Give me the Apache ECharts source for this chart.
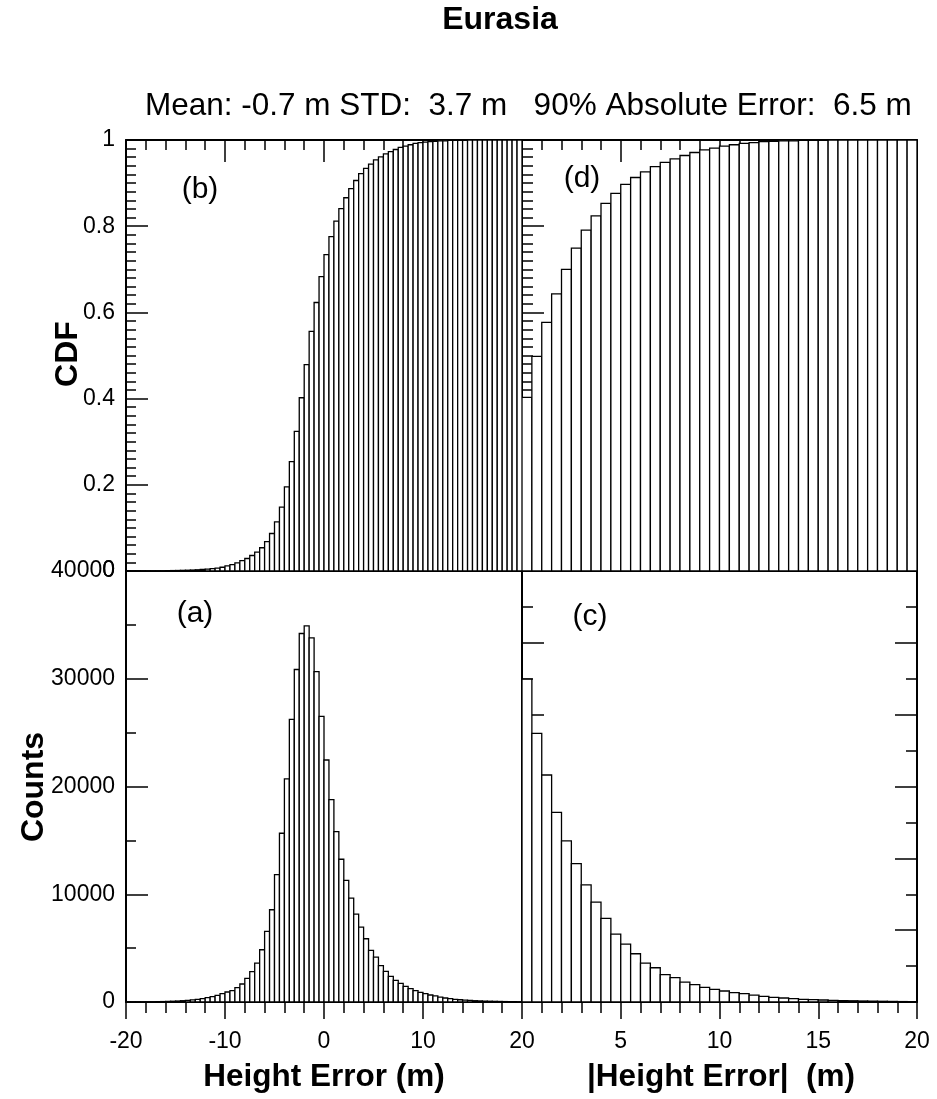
<!DOCTYPE html>
<html>
<head>
<meta charset="utf-8">
<script src="https://cdn.jsdelivr.net/npm/echarts@6/dist/echarts.min.js"></script>
<style>
html,body{margin:0;padding:0;background:#fff;}
#chart{width:937px;height:1099px;}
</style>
</head>
<body>
<div id="chart"></div>
<script>
// ---- data ----
const binWidth = 0.5;
const signedStart = -20;   // first bin edge of panels (a),(b)
const absStart = 0;        // first bin edge of panels (c),(d)

// (a) histogram of height error, 0.5 m bins from -20 to 20
const countsSigned = [
  5, 8, 10, 15, 20, 25, 30, 40, 55, 70,
  90, 120, 150, 190, 250, 310, 400, 490, 620, 770,
  930, 1050, 1330, 1670, 2190, 2810, 3610, 4850, 6550, 8560,
  11830, 15660, 20700, 26230, 30860, 34200, 34900, 33790, 30670, 26500,
  22460, 18780, 15820, 13250, 11280, 9640, 8160, 6950, 5870, 4790,
  4170, 3370, 2840, 2380, 2010, 1730, 1450, 1240, 1050, 900,
  770, 650, 560, 460, 370, 310, 250, 210, 180, 150,
  120, 100, 80, 70, 60, 50, 40, 30, 30, 20
];
// (b) CDF of height error
const cdfSigned = [
  0.0000, 0.0001, 0.0001, 0.0002, 0.0003, 0.0004, 0.0005, 0.0006, 0.0008, 0.0010,
  0.0012, 0.0015, 0.0018, 0.0022, 0.0028, 0.0035, 0.0044, 0.0055, 0.0069, 0.0087,
  0.012, 0.015, 0.019, 0.024, 0.029, 0.036, 0.044, 0.054, 0.068, 0.087,
  0.114, 0.148, 0.195, 0.254, 0.324, 0.402, 0.479, 0.556, 0.623, 0.683,
  0.734, 0.776, 0.812, 0.841, 0.866, 0.887, 0.906, 0.922, 0.934, 0.944,
  0.954, 0.961, 0.968, 0.973, 0.978, 0.983, 0.986, 0.989, 0.992, 0.994,
  0.995, 0.996, 0.997, 0.998, 0.998, 0.999, 0.999, 0.999, 0.999, 1.0,
  1.0, 1.0, 1.0, 1.0, 1.0, 1.0, 1.0, 1.0, 1.0, 1.0
];
// (c) histogram of absolute height error, 0.5 m bins from 0 to 20
const countsAbs = [
  44940, 37390, 31600, 26410, 22420, 19270, 16310, 13900, 11630, 9450,
  8060, 6720, 5420, 4770, 3800, 3380, 2780, 2410, 2040, 1760,
  1530, 1300, 1160, 970, 790, 650, 560, 460, 370, 320,
  280, 240, 200, 170, 140, 120, 100, 80, 60, 50
];
// (d) CDF of absolute height error
const cdfAbs = [
  0.403, 0.498, 0.577, 0.643, 0.700, 0.749, 0.791, 0.824, 0.853, 0.876,
  0.897, 0.913, 0.926, 0.938, 0.948, 0.956, 0.964, 0.971, 0.977, 0.981,
  0.986, 0.989, 0.992, 0.994, 0.996, 0.997, 0.998, 0.998, 0.999, 0.999,
  0.999, 1.0, 1.0, 1.0, 1.0, 1.0, 1.0, 1.0, 1.0, 1.0
];

const titleText = 'Eurasia';
const statsText = 'Mean: -0.7 m STD:  3.7 m   90% Absolute Error:  6.5 m';
const cdfName = 'CDF';
const countsName = 'Counts';
const xNameSigned = 'Height Error (m)';
const xNameAbs = '|Height Error|  (m)';
const panelTags = ['(b)', '(d)', '(a)', '(c)'];

// ---- build ----
function bins(start, vals) {
  return vals.map((v, i) => [start + i * binWidth, start + (i + 1) * binWidth, v]);
}
const FONT = '"Liberation Sans", Arial, Helvetica, sans-serif';
const BLACK = '#000';
const TICK_FONT = 23;

function renderBin(params, api) {
  const top = api.coord([api.value(0), api.value(2)]);
  const bot = api.coord([api.value(1), 0]);
  return {
    type: 'rect',
    shape: { x: top[0], y: top[1], width: bot[0] - top[0], height: bot[1] - top[1] },
    style: { fill: '#fff', stroke: BLACK, lineWidth: 1.3 }
  };
}

const lineStyle = { color: BLACK, width: 2 };
function xAxis(grid, pos, min, max, interval, opts) {
  opts = opts || {};
  return {
    type: 'value', gridIndex: grid, position: pos, min: min, max: max, interval: interval,
    axisLine: { show: true, onZero: false, lineStyle: lineStyle },
    axisTick: { show: !!opts.ticks, inside: !!opts.inside, length: opts.tickLen || 22, lineStyle: { color: BLACK, width: 1.5 } },
    minorTick: { show: !!opts.ticks, splitNumber: opts.minorSplit || 5, length: opts.minorLen || 10, lineStyle: { color: BLACK, width: 1.5 } },
    axisLabel: { show: !!opts.labels, color: BLACK, fontSize: TICK_FONT, fontFamily: FONT, margin: 28, showMinLabel: opts.showMin !== false },
    splitLine: { show: false }
  };
}
function yAxis(grid, pos, min, max, interval, opts) {
  opts = opts || {};
  return {
    type: 'value', gridIndex: grid, position: pos, min: min, max: max, interval: interval,
    axisLine: { show: true, onZero: false, lineStyle: lineStyle },
    axisTick: { show: !!opts.ticks, inside: true, length: 22, lineStyle: { color: BLACK, width: 1.5 } },
    minorTick: { show: !!opts.ticks, splitNumber: opts.minorSplit || 2, length: opts.minorLen || 10, lineStyle: { color: BLACK, width: 1.5 } },
    axisLabel: { show: !!opts.labels, color: BLACK, fontSize: TICK_FONT, fontFamily: FONT, margin: 11,
      formatter: opts.fmt },
    splitLine: { show: false }
  };
}

const chart = echarts.init(document.getElementById('chart'), null, { renderer: 'canvas' });
const option = {
  backgroundColor: '#fff',
  animation: false,
  grid: [
    { left: 126, top: 140, width: 396, height: 431 }, // (b)
    { left: 522, top: 140, width: 395, height: 431 }, // (d)
    { left: 126, top: 571, width: 396, height: 431 }, // (a)
    { left: 522, top: 571, width: 395, height: 431 }  // (c)
  ],
  xAxis: [
    xAxis(0, 'bottom', -20, 20, 10, {}),
    xAxis(0, 'top', -20, 20, 10, { ticks: true, inside: true, tickLen: 22, minorSplit: 5, minorLen: 10 }),
    xAxis(1, 'bottom', 0, 20, 5, {}),
    xAxis(1, 'top', 0, 20, 5, { ticks: true, inside: true, tickLen: 22, minorSplit: 5, minorLen: 10 }),
    xAxis(2, 'bottom', -20, 20, 10, { ticks: true, inside: false, tickLen: 17, minorSplit: 5, minorLen: 11, labels: true }),
    xAxis(3, 'bottom', 0, 20, 5, { ticks: true, inside: false, tickLen: 17, minorSplit: 5, minorLen: 11, labels: true, showMin: false })
  ],
  yAxis: [
    yAxis(0, 'left', 0, 1, 0.2, { ticks: true, minorSplit: 10, minorLen: 10, labels: true,
      fmt: v => String(Math.round(v * 10) / 10) }),
    yAxis(0, 'right', 0, 1, 0.2, {}),
    yAxis(1, 'left', 0, 1, 0.2, { ticks: true, minorSplit: 10, minorLen: 11 }),
    yAxis(1, 'right', 0, 1, 0.2, { ticks: true, minorSplit: 10, minorLen: 11 }),
    yAxis(2, 'left', 0, 40000, 10000, { ticks: true, minorSplit: 2, minorLen: 10, labels: true,
      fmt: v => String(v) }),
    yAxis(3, 'left', 0, 60000, 10000, { ticks: true, minorSplit: 2, minorLen: 11 }),
    yAxis(3, 'right', 0, 60000, 10000, { ticks: true, minorSplit: 2, minorLen: 11 })
  ],
  series: [
    { type: 'custom', xAxisIndex: 0, yAxisIndex: 0, renderItem: renderBin, clip: true,
      encode: { x: [0, 1], y: 2 }, data: bins(signedStart, cdfSigned) },
    { type: 'custom', xAxisIndex: 2, yAxisIndex: 2, renderItem: renderBin, clip: true,
      encode: { x: [0, 1], y: 2 }, data: bins(absStart, cdfAbs) },
    { type: 'custom', xAxisIndex: 4, yAxisIndex: 4, renderItem: renderBin, clip: true,
      encode: { x: [0, 1], y: 2 }, data: bins(signedStart, countsSigned) },
    { type: 'custom', xAxisIndex: 5, yAxisIndex: 5, renderItem: renderBin, clip: true,
      encode: { x: [0, 1], y: 2 }, data: bins(absStart, countsAbs) }
  ],
  graphic: [
    { type: 'text', x: 500, y: 20, z: 100, style: { text: titleText, font: 'bold 32px ' + FONT, fill: BLACK, textAlign: 'center', textVerticalAlign: 'middle' } },
    { type: 'text', x: 145, y: 106, z: 100, style: { text: statsText, font: '31.5px ' + FONT, fill: BLACK, textAlign: 'left', textVerticalAlign: 'middle' } },
    { type: 'text', x: 68, y: 354, rotation: Math.PI / 2, z: 100, style: { text: cdfName, font: 'bold 32px ' + FONT, fill: BLACK, textAlign: 'center', textVerticalAlign: 'middle' } },
    { type: 'text', x: 34, y: 787, rotation: Math.PI / 2, z: 100, style: { text: countsName, font: 'bold 32px ' + FONT, fill: BLACK, textAlign: 'center', textVerticalAlign: 'middle' } },
    { type: 'text', x: 324, y: 1077, z: 100, style: { text: xNameSigned, font: 'bold 31.5px ' + FONT, fill: BLACK, textAlign: 'center', textVerticalAlign: 'middle' } },
    { type: 'text', x: 721, y: 1077, z: 100, style: { text: xNameAbs, font: 'bold 31.5px ' + FONT, fill: BLACK, textAlign: 'center', textVerticalAlign: 'middle' } },
    { type: 'text', x: 200, y: 190, z: 100, style: { text: panelTags[0], font: '30px ' + FONT, fill: BLACK, textAlign: 'center', textVerticalAlign: 'middle' } },
    { type: 'text', x: 582, y: 179, z: 100, style: { text: panelTags[1], font: '30px ' + FONT, fill: BLACK, textAlign: 'center', textVerticalAlign: 'middle' } },
    { type: 'text', x: 195, y: 614, z: 100, style: { text: panelTags[2], font: '30px ' + FONT, fill: BLACK, textAlign: 'center', textVerticalAlign: 'middle' } },
    { type: 'text', x: 590, y: 617, z: 100, style: { text: panelTags[3], font: '30px ' + FONT, fill: BLACK, textAlign: 'center', textVerticalAlign: 'middle' } }
  ]
};
chart.setOption(option);
</script>
</body>
</html>
